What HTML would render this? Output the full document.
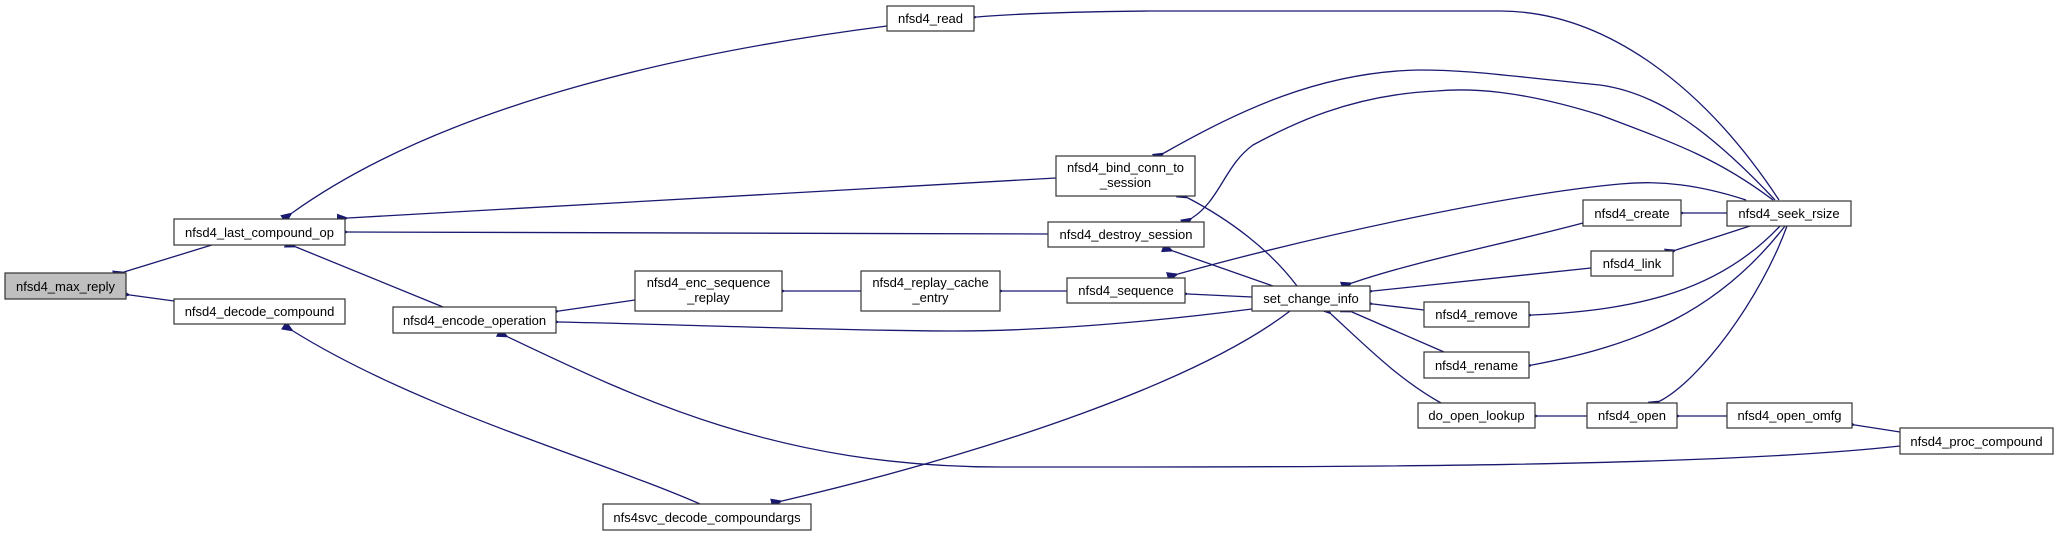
<!DOCTYPE html>
<html><head><meta charset="utf-8"><style>
html,body{margin:0;padding:0;background:#fff;}
svg{display:block;}
text{font-family:"Liberation Sans",sans-serif;font-size:13px;fill:#000;}
</style></head><body>
<svg width="2059" height="536" viewBox="0 0 2059 536" xmlns="http://www.w3.org/2000/svg">
<defs>
<marker id="a" markerWidth="12" markerHeight="10" refX="1" refY="5" orient="auto-start-reverse" markerUnits="userSpaceOnUse">
<path d="M12,0 L0,5 L12,10 Z" fill="#191970"/>
</marker>
</defs>
<g fill="none" stroke="#191970" stroke-width="1.3">
<path d="M215,244 L124,272" marker-end="url(#a)"/>
<path d="M174,301 L130,295" marker-end="url(#a)"/>
<path d="M887,26 C700,50 450,100 292,213" marker-end="url(#a)"/>
<path d="M1056,178 L348,218" marker-end="url(#a)"/>
<path d="M1048,234 L348,232" marker-end="url(#a)"/>
<path d="M443,307 L296,247" marker-end="url(#a)"/>
<path d="M635,300 L559,311" marker-end="url(#a)"/>
<path d="M1252,309 C1150,322 1050,331 952,331 C850,331 700,325 559,322" marker-end="url(#a)"/>
<path d="M1900,446 C1700,468 1300,467 1000,467 C780,467 640,400 508,337" marker-end="url(#a)"/>
<path d="M700,504 C600,460 420,410 293,331" marker-end="url(#a)"/>
<path d="M1290,311 C1200,380 1000,450 782,501" marker-end="url(#a)"/>
<path d="M861,291 L785,291" marker-end="url(#a)"/>
<path d="M1067,291 L1003,291" marker-end="url(#a)"/>
<path d="M1252,297 L1188,294" marker-end="url(#a)"/>
<path d="M1297,286 C1270,250 1230,220 1188,198" marker-end="url(#a)"/>
<path d="M1273,286 L1173,251" marker-end="url(#a)"/>
<path d="M1779,200 C1700,80 1600,11 1500,11 L1150,11 C1050,12 1000,15 977,17" marker-end="url(#a)"/>
<path d="M1775,200 C1700,120 1650,92 1600,85 C1500,75 1470,70 1418,70 C1320,72 1240,110 1164,153" marker-end="url(#a)"/>
<path d="M1773,200 C1720,160 1680,145 1600,115 C1520,90 1470,88 1436,91 C1350,95 1290,125 1253,145 C1225,165 1220,200 1192,218" marker-end="url(#a)"/>
<path d="M1746,200 C1700,185 1660,180 1620,184 C1500,195 1300,240 1178,274" marker-end="url(#a)"/>
<path d="M1583,223 C1500,245 1420,260 1352,283" marker-end="url(#a)"/>
<path d="M1727,213 L1684,213" marker-end="url(#a)"/>
<path d="M1591,268 L1373,291" marker-end="url(#a)"/>
<path d="M1750,226 L1676,250" marker-end="url(#a)"/>
<path d="M1424,310 L1373,304" marker-end="url(#a)"/>
<path d="M1780,226 C1720,290 1640,310 1532,315" marker-end="url(#a)"/>
<path d="M1444,352 L1352,312" marker-end="url(#a)"/>
<path d="M1785,226 C1720,310 1640,345 1532,365" marker-end="url(#a)"/>
<path d="M1441,403 C1400,380 1370,350 1331,314" marker-end="url(#a)"/>
<path d="M1787,226 C1760,300 1700,380 1660,401" marker-end="url(#a)"/>
<path d="M1587,416 L1538,416" marker-end="url(#a)"/>
<path d="M1727,416 L1680,416" marker-end="url(#a)"/>
<path d="M1900,432 L1855,425" marker-end="url(#a)"/>
</g>
<g stroke="#333" stroke-width="1.2" fill="#fff">
<rect x="5" y="273" width="121" height="26" fill="#bfbfbf"/>
<rect x="174" y="219" width="171" height="26"/>
<rect x="174" y="299" width="171" height="25"/>
<rect x="393" y="307" width="163" height="26"/>
<rect x="635" y="271" width="147" height="40"/>
<rect x="861" y="271" width="139" height="40"/>
<rect x="1067" y="278" width="118" height="25"/>
<rect x="1056" y="156" width="139" height="40"/>
<rect x="1048" y="222" width="156" height="25"/>
<rect x="887" y="6" width="87" height="25"/>
<rect x="603" y="504" width="208" height="26"/>
<rect x="1252" y="286" width="118" height="25"/>
<rect x="1583" y="200" width="98" height="26"/>
<rect x="1727" y="201" width="124" height="25"/>
<rect x="1591" y="251" width="82" height="25"/>
<rect x="1424" y="302" width="105" height="25"/>
<rect x="1424" y="352" width="105" height="26"/>
<rect x="1418" y="403" width="117" height="25"/>
<rect x="1587" y="403" width="90" height="25"/>
<rect x="1727" y="403" width="125" height="25"/>
<rect x="1900" y="428" width="153" height="26"/>
</g>
<g text-anchor="middle">
<text x="65.5" y="291">nfsd4_max_reply</text>
<text x="259.5" y="237">nfsd4_last_compound_op</text>
<text x="259.5" y="316">nfsd4_decode_compound</text>
<text x="474.5" y="325">nfsd4_encode_operation</text>
<text x="708.5" y="287">nfsd4_enc_sequence</text>
<text x="708.5" y="302">_replay</text>
<text x="930.5" y="287">nfsd4_replay_cache</text>
<text x="930.5" y="302">_entry</text>
<text x="1126" y="295">nfsd4_sequence</text>
<text x="1125.5" y="172">nfsd4_bind_conn_to</text>
<text x="1125.5" y="187">_session</text>
<text x="1126" y="239">nfsd4_destroy_session</text>
<text x="930.5" y="23">nfsd4_read</text>
<text x="707" y="522">nfs4svc_decode_compoundargs</text>
<text x="1311" y="303">set_change_info</text>
<text x="1632" y="218">nfsd4_create</text>
<text x="1789" y="218">nfsd4_seek_rsize</text>
<text x="1632" y="268">nfsd4_link</text>
<text x="1476.5" y="319">nfsd4_remove</text>
<text x="1476.5" y="370">nfsd4_rename</text>
<text x="1476.5" y="420">do_open_lookup</text>
<text x="1632" y="420">nfsd4_open</text>
<text x="1789.5" y="420">nfsd4_open_omfg</text>
<text x="1976.5" y="446">nfsd4_proc_compound</text>
</g>
</svg>
</body></html>
